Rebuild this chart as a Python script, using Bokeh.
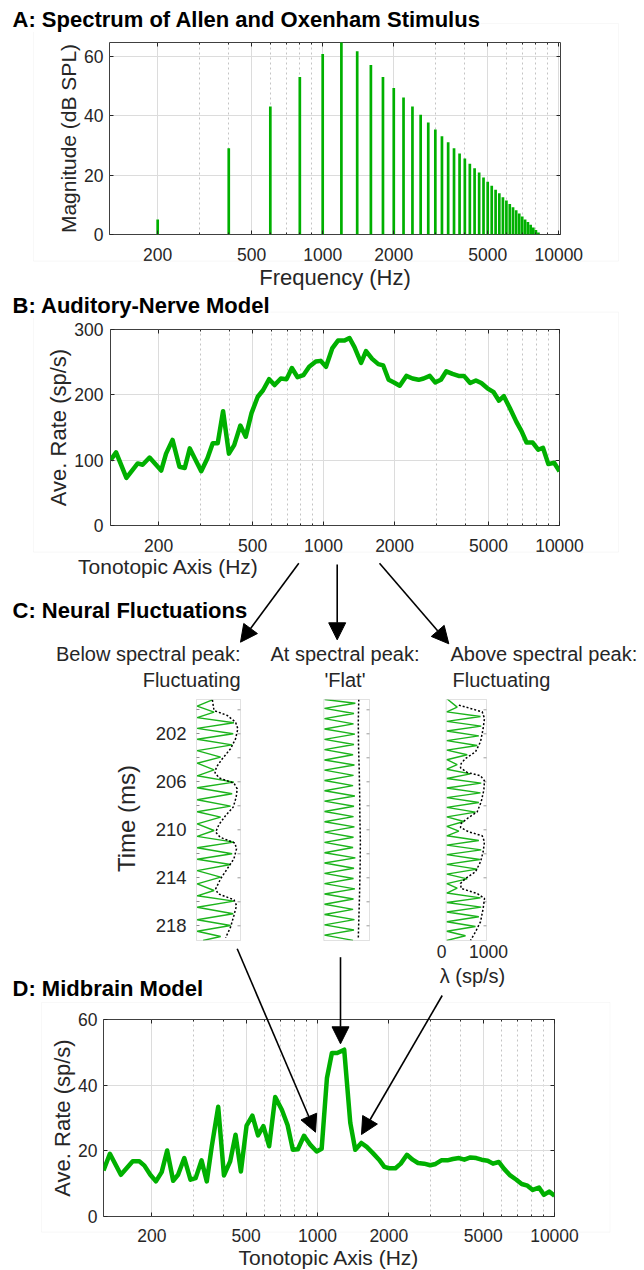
from math import pi
from bokeh.plotting import figure
from bokeh.models import (Range1d, LogScale, LinearAxis, LogAxis, FixedTicker,
                          Grid, Label, Arrow, NormalHead, BoxAnnotation, BasicTickFormatter)
from bokeh.embed import file_html
from bokeh.resources import INLINE

# ------------------------------------------------------------------ data
# A: harmonic spectrum (Hz, dB SPL)
harm_freq = [200, 400, 600, 800, 1000, 1200, 1400, 1600, 1800, 2000, 2200, 2400, 2600, 2800,
             3000, 3200, 3400, 3600, 3800, 4000, 4200, 4400, 4600, 4800, 5000, 5200, 5400,
             5600, 5800, 6000, 6200, 6400, 6600, 6800, 7000, 7200, 7400, 7600, 7800, 8000, 8200]
harm_db = [5.1, 29.1, 43.2, 53.1, 60.9, 66.0, 61.8, 57.2, 53.1, 49.4, 46.2, 43.2, 40.4, 37.8,
           35.4, 33.1, 31.1, 29.1, 27.3, 25.6, 23.9, 22.3, 20.9, 19.2, 17.8, 16.4, 15.1,
           13.9, 12.6, 11.5, 10.3, 9.2, 8.2, 7.1, 6.1, 5.1, 4.2, 3.3, 2.4, 1.5, 0.7]

# B: auditory-nerve model rate profile
an_freq = [125, 132, 146, 163, 171, 183, 205, 215, 229, 245, 258, 271, 303, 322, 339, 356, 375,
           397, 418, 444, 468, 495, 526, 554, 588, 620, 659, 697, 734, 776, 821, 869, 927, 972,
           1024, 1088, 1151, 1227, 1288, 1352, 1442, 1513, 1607, 1706, 1790, 1887, 1988, 2103,
           2243, 2382, 2530, 2655, 2820, 2972, 3143, 3313, 3518, 3736, 3936, 4181, 4423, 4661,
           4950, 5259, 5540, 5810, 6173, 6558, 6910, 7250, 7700, 8120, 8510, 8970, 9490, 10000]
an_rate = [100, 112, 73, 95, 93, 104, 84, 110, 131, 90, 88, 118, 83, 103, 126, 126, 175,
           110, 123, 153, 136, 172, 197, 207, 224, 215, 225, 224, 241, 227, 230, 243, 251, 252,
           243, 271, 283, 283, 287, 273, 249, 267, 255, 247, 245, 223, 219, 214,
           229, 225, 223, 225, 229, 219, 223, 236, 232, 229, 229, 218, 222, 218,
           210, 204, 191, 198, 179, 159, 144, 127, 127, 116, 119, 94, 96, 83]

# D: midbrain model rate profile
mb_freq = [125, 133, 148, 166, 177, 186, 197, 208, 220, 232, 246, 258, 274, 291, 306, 324, 341,
           358, 381, 403, 428, 451, 475, 502, 531, 561, 591, 625, 663, 707, 748, 787, 826, 877,
           931, 992, 1041, 1096, 1150, 1211, 1296, 1375, 1443, 1531, 1613, 1713, 1818, 1914,
           2008, 2132, 2245, 2384, 2520, 2654, 2818, 2991, 3149, 3330, 3535, 3724, 3954, 4164,
           4418, 4674, 4920, 5224, 5503, 5818, 6128, 6503, 6904, 7272, 7690, 8095, 8600, 9016,
           9495, 10000]
mb_rate = [14.0, 19.1, 12.7, 16.8, 16.8, 15.5, 12.7, 10.7, 13.5, 20.1, 10.9, 12.7, 17.8, 11.2,
           11.7, 17.1, 10.7, 21.4, 33.4, 12.5, 16.8, 24.9, 13.7, 27.7, 30.7, 24.7, 27.5, 21.4,
           36.4, 32.5, 27.8, 20.3, 20.5, 24.6, 21.9, 19.8, 20.6, 42.2, 49.8, 49.8, 50.8, 28.5,
           20.3, 22.4, 21.2, 19.3, 17.3, 15.1, 14.7, 14.7, 16.1, 18.8, 17.3, 16.3, 16.1, 15.6,
           16.0, 17.1, 17.1, 17.5, 17.8, 17.3, 18.0, 17.8, 17.3, 17.0, 16.1, 16.6, 14.5, 12.5,
           11.2, 9.9, 9.4, 8.1, 8.8, 6.6, 7.6, 6.3]

# C: neural fluctuations (time in ms, rate lambda in sp/s)
p1_t = [199.17, 199.70, 200.20, 200.65, 201.08, 201.55, 202.00, 202.45, 202.92, 203.40,
        203.94, 204.45, 205.00, 205.50, 206.03, 206.50, 207.00, 207.50, 208.03, 208.50,
        208.94, 209.50, 210.06, 210.55, 211.03, 211.50, 212.00, 212.45, 212.89, 213.40,
        213.94, 214.50, 215.06, 215.50, 215.94, 216.45, 217.00, 217.50, 217.97, 218.45,
        218.89, 219.22]
p1_l = [360, 15, 400, 15, 850, 15, 835, 15, 810, 15, 550, 15, 400, 15, 850, 15, 810, 15, 775, 15,
        550, 15, 400, 15, 850, 15, 810, 15, 775, 15, 550, 15, 400, 15, 850, 15, 835, 15, 775, 15,
        550, 150]
p1_dt = [199.17, 200.06, 200.47, 201.03, 201.58, 202.42, 203.25, 204.08, 204.78, 205.25,
         205.67, 206.11, 206.58, 207.28, 208.11, 208.81, 209.56, 210.19, 210.61, 211.11,
         211.58, 212.42, 213.25, 214.08, 214.92, 215.33, 215.83, 216.31, 217.14, 218.11, 219.0]
p1_dl = [361, 398, 699, 887, 940, 887, 774, 586, 451, 421, 511, 850, 925, 902, 835, 662, 511,
         436, 534, 872, 910, 850, 699, 549, 436, 489, 850, 910, 850, 774, 662]

p2_t = [199.14, 199.45, 199.88, 200.31, 200.74, 201.17, 201.60, 202.03, 202.46, 202.89, 203.32,
        203.75, 204.18, 204.60, 205.03, 205.46, 205.89, 206.32, 206.75, 207.18, 207.61, 208.04,
        208.47, 208.90, 209.33, 209.76, 210.19, 210.62, 211.05, 211.48, 211.91, 212.34, 212.77,
        213.20, 213.63, 214.06, 214.49, 214.92, 215.35, 215.77, 216.20, 216.63, 217.06, 217.49,
        217.92, 218.35, 218.78, 219.21]
p2_l = [20, 690, 15, 660, 15, 650, 15, 680, 15, 660, 15, 640, 15, 670, 15, 650, 15, 640, 15, 680,
        15, 660, 15, 650, 15, 670, 15, 650, 15, 640, 15, 690, 15, 660, 15, 650, 15, 680, 15, 650,
        15, 640, 15, 670, 15, 660, 15, 640]
p2_dt = [199.14, 201.0, 203.0, 205.0, 207.0, 209.0, 211.0, 213.0, 215.0, 217.0, 219.0]
p2_dl = [765, 755, 760, 775, 785, 790, 800, 795, 785, 770, 755]

p3_t = [199.10, 199.78, 200.17, 200.56, 200.96, 201.36, 201.77, 202.17, 202.57, 202.97, 203.36,
        203.75, 204.16, 204.56, 204.95, 205.34, 205.73, 206.11, 206.52, 206.92, 207.32, 207.72,
        208.13, 208.53, 208.92, 209.31, 209.71, 210.11, 210.50, 210.89, 211.28, 211.67, 212.07,
        212.47, 212.88, 213.28, 213.69, 214.09, 214.48, 214.86, 215.27, 215.67, 216.06, 216.44,
        216.85, 217.25, 217.66, 218.06, 218.45, 218.83, 219.22]
p3_l = [25, 273, 15, 851, 15, 868, 15, 810, 15, 769, 15, 521, 15, 273, 15, 603, 15, 868, 15, 851,
        15, 810, 15, 727, 15, 438, 15, 314, 15, 810, 15, 868, 15, 835, 15, 769, 15, 521, 15, 273,
        15, 851, 15, 868, 15, 810, 15, 727, 15, 479, 15]
p3_dt = [199.61, 200.17, 200.72, 201.56, 202.67, 203.5, 204.06, 204.47, 204.83, 205.22, 205.5,
         205.92, 206.69, 207.67, 208.5, 209.06, 209.47, 209.81, 210.17, 210.5, 211.0, 211.83,
         212.67, 213.5, 214.06, 214.47, 214.89, 215.31, 215.72, 216.56, 217.67, 218.5, 219.22]
p3_dl = [314, 893, 950, 917, 851, 727, 479, 372, 355, 521, 851, 950, 934, 868, 769, 521, 372,
         355, 562, 893, 950, 917, 851, 727, 479, 355, 372, 769, 950, 917, 851, 727, 603]

# ticks
freq_ticks = [200, 500, 1000, 2000, 5000, 10000]
freq_minor = [300, 400, 600, 700, 800, 900, 3000, 4000, 6000, 7000, 8000, 9000]
spl_ticks = [0, 20, 40, 60]
an_ticks = [0, 100, 200, 300]
mb_ticks = [0, 20, 40, 60]
time_ticks = [200, 202, 204, 206, 208, 210, 212, 214, 216, 218]
time_labels = {200: "", 202: "202", 204: "", 206: "206", 208: "", 210: "210", 212: "",
               214: "214", 216: "", 218: "218"}
lam_ticks = [0, 1000]

# ------------------------------------------------------------------ style / layout
FONT = "Liberation Sans"
GREEN = "#00b000"
INK = "#262626"
GRIDC = "#dcdcdc"
MINORC = "#c4c4c4"
FAINT = "#e9e9e9"
W, H = 644, 1270


def panel_fig(top, bottom, frame, xr, yr, xlog=False):
    fl, fr, ft, fb = frame
    p = figure(width=W, height=bottom - top, x_range=xr, y_range=yr,
               x_axis_type=None, y_axis_type=None, output_backend="svg",
               toolbar_location=None,
               min_border_left=fl, min_border_right=W - fr,
               min_border_top=ft - top, min_border_bottom=bottom - fb)
    if xlog:
        p.x_scale = LogScale()
    p.outline_line_color = None
    p.styles = {"position": "absolute", "left": "0px", "top": f"{top}px"}
    return p


def std_axes(p, yticks, xstand, ystand):
    xt = FixedTicker(ticks=freq_ticks, minor_ticks=freq_minor)
    yt = FixedTicker(ticks=yticks)
    common = dict(axis_line_color=None, major_tick_line_color=INK, minor_tick_line_color=INK,
                  major_tick_in=4, major_tick_out=0, minor_tick_in=2, minor_tick_out=0,
                  major_label_text_font=FONT, major_label_text_font_size="17.5px",
                  major_label_text_color=INK)
    p.add_layout(Grid(dimension=0, ticker=xt, grid_line_color=GRIDC,
                      minor_grid_line_color=MINORC, minor_grid_line_dash="2 3"))
    p.add_layout(Grid(dimension=1, ticker=yt, grid_line_color=GRIDC))
    p.add_layout(LogAxis(ticker=xt, formatter=BasicTickFormatter(use_scientific=False),
                         major_label_standoff=xstand, **common), "below")
    p.add_layout(LogAxis(ticker=xt, major_label_overrides={t: "" for t in freq_ticks},
                         major_label_standoff=0, **common), "above")
    p.add_layout(LinearAxis(ticker=yt, major_label_standoff=ystand, **common), "left")
    p.add_layout(LinearAxis(ticker=yt, major_label_overrides={t: "" for t in yticks},
                            major_label_standoff=0, **common), "right")
    p.outline_line_color = "#404040"


# ------------------------------------------------------------------ panel A
pa = panel_fig(0, 292, (109, 560, 42, 234), Range1d(125, 10170), Range1d(0, 64.75), xlog=True)
std_axes(pa, spl_ticks, 13, 6)
pa.segment(x0=harm_freq, y0=0, x1=harm_freq, y1=harm_db, line_color=GREEN, line_width=2.7)

# ------------------------------------------------------------------ panel B
pb = panel_fig(292, 580, (110, 559, 329, 525), Range1d(125, 10000), Range1d(0, 300), xlog=True)
std_axes(pb, an_ticks, 13, 7)
pb.line(an_freq, an_rate, line_color=GREEN, line_width=4.5, line_join="round")

# ------------------------------------------------------------------ panel C
C_L, C_R, C_T, C_B = 196, 492, 699, 940
MS_PX = 12.0          # pixels per ms
Y202 = 733.3          # page y of the 202 ms tick


def t_at(y):
    return 202 + (y - Y202) / MS_PX


pc = panel_fig(580, 983, (C_L, C_R, C_T, C_B), Range1d(C_L, C_R), Range1d(t_at(C_B), t_at(C_T)))
BOXES = [(196, 240), (323.3, 369), (445.7, 486)]
for name, (a, b) in zip(["p1", "p2", "p3"], BOXES):
    s = 1000.0 / (b - a)
    pc.extra_x_ranges[name] = Range1d(-(a - C_L) * s, 1000 + (C_R - b) * s)
LAM0, LAM1000 = 441.0, 488.0
s = 1000.0 / (LAM1000 - LAM0)
pc.extra_x_ranges["lam"] = Range1d(-(LAM0 - C_L) * s, 1000 + (C_R - LAM1000) * s)

pc.add_layout(LinearAxis(ticker=FixedTicker(ticks=time_ticks), major_label_overrides=time_labels,
                         axis_line_color=None, major_tick_line_color="#8c8c8c",
                         major_tick_in=3, major_tick_out=0, minor_tick_in=0, minor_tick_out=0,
                         major_label_standoff=10, major_label_text_font=FONT,
                         major_label_text_font_size="18.5px", major_label_text_color=INK), "left")
pc.add_layout(LinearAxis(x_range_name="lam", ticker=FixedTicker(ticks=lam_ticks),
                         axis_line_color=None, major_tick_line_color=None,
                         major_tick_in=0, major_tick_out=0, minor_tick_in=0, minor_tick_out=0,
                         major_label_standoff=4, major_label_text_font=FONT,
                         major_label_text_font_size="17.5px", major_label_text_color=INK), "below")
n = len(time_ticks)
for (a, b) in BOXES:
    pc.segment(x0=[b] * n, y0=time_ticks, x1=[b - 3] * n, y1=time_ticks,
               line_color="#9a9a9a", line_width=1)
for name, gt, gl, dt, dl in [("p1", p1_t, p1_l, p1_dt, p1_dl),
                             ("p2", p2_t, p2_l, p2_dt, p2_dl),
                             ("p3", p3_t, p3_l, p3_dt, p3_dl)]:
    pc.line(gl, gt, x_range_name=name, line_color="#1cb31c", line_width=1.4)
    pc.line(dl, dt, x_range_name=name, line_color="black", line_width=1.5, line_dash="2 2")

# ------------------------------------------------------------------ panel D
pd = panel_fig(983, 1270, (103, 554, 1019, 1216), Range1d(125, 10000), Range1d(0, 60), xlog=True)
std_axes(pd, mb_ticks, 12, 6)
pd.line(mb_freq, mb_rate, line_color=GREEN, line_width=4.5, line_join="round")

# ------------------------------------------------------------------ overlay: titles, labels, arrows
ov = figure(width=W, height=H, x_range=Range1d(0, W), y_range=Range1d(H, 0),
            x_axis_type=None, y_axis_type=None, output_backend="svg", toolbar_location=None,
            min_border=0, min_border_left=0, min_border_right=0, min_border_top=0,
            min_border_bottom=0)
ov.background_fill_color = None
ov.border_fill_color = None
ov.outline_line_color = None
ov.styles = {"position": "absolute", "left": "0px", "top": "0px", "pointer-events": "none"}


def lab(x, y, text, size, bold=False, align="left", angle=0.0, color=INK, bg=None):
    l = Label(x=x, y=y, text=text, text_font=FONT, text_font_size=f"{size}px",
              text_font_style="bold" if bold else "normal",
              text_align=align, text_baseline="middle", text_color=color,
              angle=angle, angle_units="rad")
    if bg:
        l.background_fill_color = bg
    ov.add_layout(l)


def box(l, r, t, b, color):
    ov.add_layout(BoxAnnotation(left=l, right=r, top=t, bottom=b, fill_alpha=0,
                                line_color=color, line_width=1))


# faint panel borders
box(33, 618, 23, 260.7, FAINT)
box(33, 618, 311.7, 551.7, FAINT)
box(41, 609.5, 1002, 1231.7, FAINT)
# neural-fluctuation panel boxes
for (a, b) in BOXES:
    box(a, b, C_T, C_B, "#9a9a9a")

lab(12, 19, "A: Spectrum of Allen and Oxenham Stimulus", 22, bold=True, color="black", bg="white")
lab(68, 138, "Magnitude (dB SPL)", 21, align="center", angle=pi / 2)
lab(334.5, 277, "Frequency (Hz)", 22, align="center")

lab(12, 305, "B: Auditory-Nerve Model", 22, bold=True, color="black", bg="white")
lab(58, 427, "Ave. Rate (sp/s)", 22, align="center", angle=pi / 2)
lab(168, 566, "Tonotopic Axis (Hz)", 21, align="center")

lab(12, 610, "C: Neural Fluctuations", 22, bold=True, color="black")
lab(240, 653, "Below spectral peak:", 20, align="right")
lab(240, 679, "Fluctuating", 20, align="right")
lab(344.5, 653, "At spectral peak:", 20, align="center")
lab(344.5, 679, "'Flat'", 20, align="center")
lab(450, 653, "Above spectral peak:", 20, align="left")
lab(452, 679, "Fluctuating", 20, align="left")
lab(126, 818, "Time (ms)", 24, align="center", angle=pi / 2)
lab(472, 975, "\u03bb (sp/s)", 20, align="center")

lab(12, 988, "D: Midbrain Model", 22, bold=True, color="black")
lab(62, 1117.5, "Ave. Rate (sp/s)", 22, align="center", angle=pi / 2)
lab(328.5, 1257, "Tonotopic Axis (Hz)", 21, align="center")

ARROWS = [((298.3, 562.7), (240.0, 641.7)), ((336.7, 564.0), (336.7, 639.3)),
          ((379.0, 562.7), (448.3, 643.3)),
          ((236.7, 948.3), (315.0, 1131.7)), ((340.0, 956.7), (340.0, 1043.3)),
          ((441.7, 995.0), (361.0, 1134.0))]
for (x0, y0), (x1, y1) in ARROWS:
    ov.add_layout(Arrow(x_start=x0, y_start=y0, x_end=x1, y_end=y1,
                        line_color="black", line_width=1.6,
                        end=NormalHead(size=17, fill_color="black", line_color="black",
                                       line_width=1)))

open("out.html", "w").write(file_html([pa, pb, pc, pd, ov], INLINE))
